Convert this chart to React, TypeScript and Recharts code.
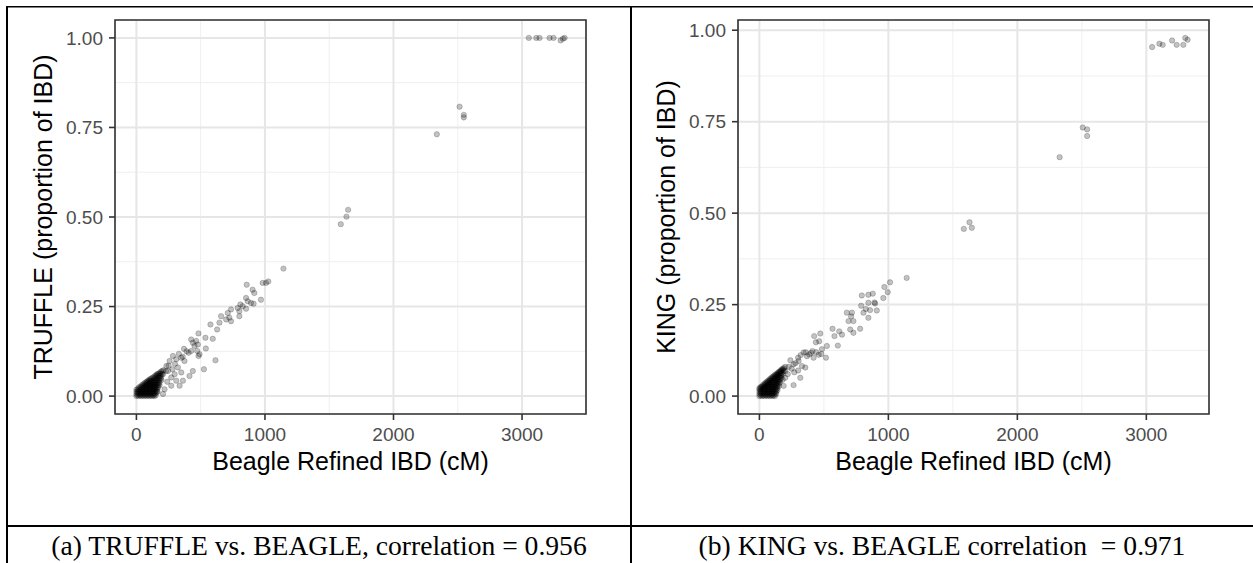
import { ScatterChart, Scatter, XAxis, YAxis, CartesianGrid, ReferenceArea } from 'recharts';

type Pt = { x: number; y: number };

const xTicks = [0, 1000, 2000, 3000];
const xMinor = [500, 1500, 2500];
const yTicks = [0, 0.25, 0.5, 0.75, 1];
const yMinor = [0.125, 0.375, 0.625, 0.875];

const xTitle = 'Beagle Refined IBD (cM)';
const captionA = '(a) TRUFFLE vs. BEAGLE, correlation = 0.956';
const captionB = '(b) KING vs. BEAGLE correlation  = 0.971';

// overplotted corner near the origin, read per column: [cM, proportions]
const truffleBlob: [number, number[]][] = [
  [0, [0, 0.006, 0.012, 0.018]],
  [10, [0.002, 0.008, 0.014, 0.02]],
  [20, [0, 0.006, 0.012, 0.018, 0.024]],
  [30, [0.002, 0.008, 0.014, 0.02, 0.026]],
  [40, [0, 0.006, 0.012, 0.018, 0.024, 0.03]],
  [50, [0.002, 0.008, 0.014, 0.02, 0.026, 0.032]],
  [60, [0, 0.006, 0.012, 0.018, 0.024, 0.03, 0.035]],
  [70, [0.002, 0.008, 0.014, 0.02, 0.026, 0.032, 0.038]],
  [80, [0, 0.006, 0.012, 0.018, 0.024, 0.03, 0.036, 0.04]],
  [90, [0.002, 0.008, 0.014, 0.02, 0.026, 0.032, 0.038, 0.043]],
  [100, [0, 0.006, 0.012, 0.018, 0.024, 0.03, 0.036, 0.042, 0.046]],
  [110, [0.002, 0.008, 0.014, 0.02, 0.026, 0.032, 0.038, 0.044, 0.048]],
  [120, [0, 0.006, 0.012, 0.018, 0.024, 0.03, 0.036, 0.042, 0.05]],
  [130, [0.002, 0.008, 0.014, 0.02, 0.026, 0.032, 0.038, 0.044, 0.052]],
  [140, [0, 0.006, 0.012, 0.018, 0.024, 0.03, 0.036, 0.042, 0.049, 0.055]],
  [150, [0.002, 0.008, 0.014, 0.02, 0.026, 0.032, 0.038, 0.045, 0.052, 0.058]],
  [160, [0.012, 0.018, 0.024, 0.03, 0.036, 0.043, 0.05, 0.057, 0.061]],
  [170, [0.025, 0.031, 0.037, 0.044, 0.051, 0.058, 0.063]],
  [180, [0.037, 0.044, 0.05, 0.057, 0.064]],
  [190, [0.05, 0.056, 0.063, 0.068]],
  [200, [0.062, 0.07]],
  [210, [0.072]],
];

const truffleScatter: [number, number][] = [
  [165, 0.012], [180, 0.03], [195, 0.045], [240, 0.04], [207, 0.006], [219, 0.019],
  [271, 0.029], [336, 0.029], [310, 0.043], [362, 0.043], [271, 0.052], [207, 0.061],
  [297, 0.061], [413, 0.056], [246, 0.07], [349, 0.066], [439, 0.07], [230, 0.07],
  [280, 0.075], [525, 0.075], [233, 0.084], [250, 0.085], [323, 0.08], [300, 0.09],
  [258, 0.098], [374, 0.098], [310, 0.103], [349, 0.107], [360, 0.11], [284, 0.112],
  [330, 0.118], [390, 0.125], [370, 0.132], [406, 0.121], [426, 0.126], [473, 0.126],
  [491, 0.117], [483, 0.112], [540, 0.133], [615, 0.1], [452, 0.14], [478, 0.144],
  [439, 0.149], [465, 0.154], [426, 0.158], [483, 0.175], [537, 0.163], [594, 0.16],
  [628, 0.186], [576, 0.2], [646, 0.205], [659, 0.223], [698, 0.214], [723, 0.219],
  [736, 0.209], [711, 0.232], [736, 0.242], [801, 0.223], [788, 0.246], [801, 0.237],
  [827, 0.251], [853, 0.244], [809, 0.256], [853, 0.274], [866, 0.265], [891, 0.26],
  [912, 0.258], [969, 0.269], [904, 0.297], [917, 0.288], [858, 0.311], [982, 0.316],
  [1008, 0.316], [1026, 0.32], [1144, 0.356],
  [1590, 0.48], [1634, 0.501], [1647, 0.52],
  [2337, 0.731], [2514, 0.808], [2547, 0.785], [2547, 0.778],
  [3053, 1.0], [3111, 1.0], [3136, 1.0], [3214, 1.0], [3245, 1.0], [3300, 0.993],
  [3318, 0.998], [3331, 1.0],
];

const kingBlob: [number, number[]][] = [
  [0, [0, 0.006, 0.012, 0.018, 0.022]],
  [10, [0.002, 0.008, 0.014, 0.02, 0.025]],
  [20, [0, 0.006, 0.012, 0.018, 0.024, 0.027]],
  [30, [0.002, 0.008, 0.014, 0.02, 0.026, 0.031]],
  [40, [0, 0.006, 0.012, 0.018, 0.024, 0.03, 0.034]],
  [50, [0.002, 0.008, 0.014, 0.02, 0.026, 0.032, 0.037]],
  [60, [0, 0.006, 0.012, 0.018, 0.024, 0.03, 0.036, 0.04]],
  [70, [0.002, 0.008, 0.014, 0.02, 0.026, 0.032, 0.038, 0.043]],
  [80, [0, 0.006, 0.012, 0.018, 0.024, 0.03, 0.036, 0.042, 0.046]],
  [90, [0.002, 0.008, 0.014, 0.02, 0.026, 0.032, 0.038, 0.044, 0.049]],
  [100, [0, 0.006, 0.012, 0.018, 0.024, 0.03, 0.036, 0.042, 0.048, 0.052]],
  [110, [0.002, 0.008, 0.014, 0.02, 0.026, 0.032, 0.038, 0.044, 0.05, 0.055]],
  [120, [0, 0.006, 0.012, 0.018, 0.024, 0.03, 0.036, 0.042, 0.048, 0.054, 0.058]],
  [130, [0.006, 0.012, 0.018, 0.024, 0.03, 0.036, 0.042, 0.048, 0.054, 0.06]],
  [140, [0.016, 0.022, 0.028, 0.034, 0.04, 0.046, 0.052, 0.058, 0.063]],
  [150, [0.027, 0.033, 0.039, 0.045, 0.051, 0.057, 0.062, 0.066]],
  [160, [0.038, 0.044, 0.05, 0.056, 0.062, 0.068]],
  [170, [0.05, 0.056, 0.062, 0.068, 0.072]],
  [180, [0.06, 0.066, 0.072, 0.075]],
  [190, [0.07, 0.076]],
  [200, [0.08]],
];

const kingScatter: [number, number][] = [
  [137, 0.059], [162, 0.068], [180, 0.045], [188, 0.028], [200, 0.05], [220, 0.06],
  [265, 0.03], [250, 0.075], [201, 0.068], [227, 0.08], [270, 0.065], [317, 0.05],
  [300, 0.07], [280, 0.09], [265, 0.087], [240, 0.098], [304, 0.096], [330, 0.082],
  [356, 0.078], [300, 0.105], [320, 0.112], [343, 0.119], [369, 0.109], [387, 0.114],
  [412, 0.123], [360, 0.12], [400, 0.118], [420, 0.105], [440, 0.12], [460, 0.113],
  [480, 0.115], [516, 0.105], [485, 0.128], [523, 0.137], [438, 0.147], [464, 0.15],
  [425, 0.164], [472, 0.171], [608, 0.138], [567, 0.184], [619, 0.177], [640, 0.168],
  [582, 0.164], [704, 0.182], [729, 0.173], [781, 0.184], [691, 0.205], [729, 0.205],
  [711, 0.218], [678, 0.228], [717, 0.228], [845, 0.214], [807, 0.228], [825, 0.238],
  [858, 0.235], [910, 0.234], [789, 0.247], [845, 0.255], [892, 0.256], [897, 0.253],
  [794, 0.275], [845, 0.277], [879, 0.28], [961, 0.268], [995, 0.284], [969, 0.298],
  [1013, 0.311], [1142, 0.323],
  [1585, 0.457], [1629, 0.475], [1647, 0.46],
  [2328, 0.653], [2507, 0.734], [2541, 0.729], [2541, 0.711],
  [3045, 0.954], [3101, 0.963], [3127, 0.96], [3200, 0.972], [3235, 0.96], [3287, 0.96],
  [3302, 0.979], [3320, 0.974],
];

const toPoints = (blob: [number, number[]][], scatter: [number, number][]): Pt[] => [
  ...blob.flatMap(([x, ys]) => ys.map((y) => ({ x, y }))),
  ...scatter.map(([x, y]) => ({ x, y })),
];

// ggplot's default 5% expansion of the data range
function expand(vals: number[]): [number, number] {
  const lo = Math.min(...vals);
  const hi = Math.max(...vals);
  const pad = (hi - lo) * 0.05;
  return [lo - pad, hi + pad];
}

const SANS = '"Liberation Sans", Arial, Helvetica, sans-serif';
const SERIF = '"Liberation Serif", "Times New Roman", serif';

const Dot = (p: any) => (
  <circle
    cx={p.cx}
    cy={p.cy}
    r={2.7}
    fill="#000"
    fillOpacity={0.24}
    stroke="#000"
    strokeOpacity={0.24}
    strokeWidth={0.8}
  />
);

function Panel({ data, yTitle, left }: { data: Pt[]; yTitle: string; left: number }) {
  const xDom = expand(data.map((d) => d.x));
  const yDom = expand(data.map((d) => d.y));
  const tick = { fill: '#4d4d4d', fontSize: 19, fontFamily: SANS };
  const tickLine = { stroke: '#333333', strokeWidth: 1.6 };
  return (
    <div style={{ position: 'absolute', left, top: 0 }}>
      <ScatterChart width={600} height={500} margin={{ top: 20, right: 14, bottom: 0, left: 0 }}>
        <CartesianGrid stroke="#efefef" strokeWidth={1} verticalValues={xMinor} horizontalValues={yMinor} />
        <CartesianGrid stroke="#e6e6e6" strokeWidth={2} />
        <XAxis
          type="number"
          dataKey="x"
          domain={xDom}
          ticks={xTicks}
          axisLine={false}
          tickSize={6}
          tickMargin={8}
          tick={tick}
          tickLine={tickLine}
          height={86}
          label={{ value: xTitle, position: 'insideBottom', offset: 30, fill: '#000', fontSize: 25, fontFamily: SANS }}
        />
        <YAxis
          type="number"
          dataKey="y"
          domain={yDom}
          ticks={yTicks}
          tickFormatter={(v: number) => v.toFixed(2)}
          axisLine={false}
          tickSize={6}
          tickMargin={6}
          tick={tick}
          tickLine={tickLine}
          width={115}
          label={{
            value: yTitle,
            angle: -90,
            position: 'insideLeft',
            offset: 43,
            fill: '#000',
            fontSize: 25,
            fontFamily: SANS,
            style: { textAnchor: 'middle' },
          }}
        />
        <Scatter data={data} shape={Dot} isAnimationActive={false} />
        <ReferenceArea
          x1={xDom[0]}
          x2={xDom[1]}
          y1={yDom[0]}
          y2={yDom[1]}
          fill="none"
          stroke="#333333"
          strokeWidth={1.6}
        />
      </ScatterChart>
    </div>
  );
}

export default function App() {
  return (
    <div
      style={{
        position: 'absolute',
        left: 0,
        top: 0,
        width: 1253,
        height: 563,
        background: '#fff',
        overflow: 'hidden',
        fontFamily: SANS,
      }}
    >
      <svg width={1253} height={563} style={{ position: 'absolute', left: 0, top: 0 }}>
        <line x1={6} y1={6.7} x2={1253} y2={6.7} stroke="#000" strokeWidth={1.5} />
        <line x1={6} y1={526} x2={1253} y2={526} stroke="#000" strokeWidth={2} />
        <line x1={7} y1={6} x2={7} y2={563} stroke="#000" strokeWidth={2} />
        <line x1={631} y1={6} x2={631} y2={563} stroke="#000" strokeWidth={2} />
        <text x={319} y={555} textAnchor="middle" fontFamily={SERIF} fontSize={27.6} style={{ whiteSpace: 'pre' }}>
          {captionA}
        </text>
        <text x={942} y={555} textAnchor="middle" fontFamily={SERIF} fontSize={27.6} style={{ whiteSpace: 'pre' }}>
          {captionB}
        </text>
      </svg>
      <Panel data={toPoints(truffleBlob, truffleScatter)} yTitle="TRUFFLE (proportion of IBD)" left={0} />
      <Panel data={toPoints(kingBlob, kingScatter)} yTitle="KING (proportion of IBD)" left={623} />
    </div>
  );
}
